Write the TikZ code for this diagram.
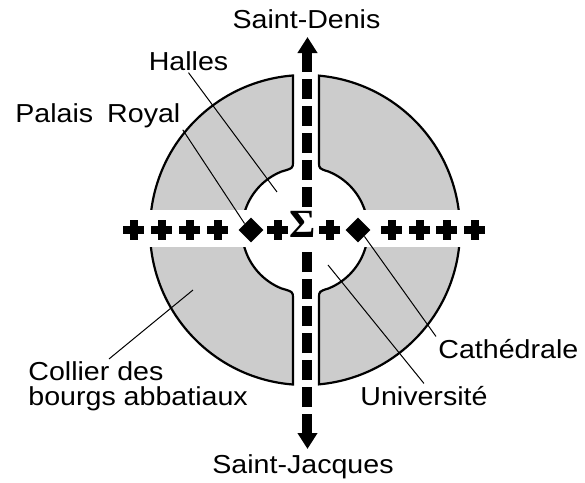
\documentclass[tikz,border=0pt]{standalone}
\usepackage{fontspec}
\setmainfont{Liberation Sans}[FakeStretch=1.1]
\newfontfamily\sigmafont{Liberation Serif}
\usepackage{xcolor}
\colorlet{colRing}{black!20}
\usetikzlibrary{arrows.meta, calc, shapes.geometric}
\tikzset{
	ringpart/.style={draw, line width=1.1pt, fill=colRing},
	leader/.style={line width=0.5pt},
	lbl/.style={font=\fontsize{13pt}{12.85pt}\selectfont, inner sep=1pt},
	road/.style={line width=5pt, dash pattern=on 10pt off 3.5pt, arrows={Triangle[width=9.5pt, length=8pt]-}},
	gatemark/.style={diamond, fill, minimum size=12.5pt, inner sep=0pt},
	crossmark/.pic={
		\fill (-5.25pt,-1.9pt) rectangle (5.25pt,1.9pt);
		\fill (-1.9pt,-5.1pt) rectangle (1.9pt,5.1pt);
	},
}
\begin{document}
\begin{tikzpicture}[x=0.5pt, y=0.5pt]
	\useasboundingbox (-305,230) rectangle (280,-253);

	% Ring, split in two halves
	\filldraw[ringpart] (94.44:155) -- (-12,68) .. controls (-12,61.85) .. (112:63)
		arc[start angle=112, end angle=248, radius=63]
		.. controls (-12,-61.85) .. (-12,-68) -- (265.56:155)
		arc[start angle=265.56, end angle=94.44, radius=155] -- cycle;
	\filldraw[ringpart] (84.82:155) -- (14,68) .. controls (14,61.42) .. (68:63)
		arc[start angle=68, end angle=-68, radius=63]
		.. controls (14,-61.42) .. (14,-68) -- (-84.82:155)
		arc[start angle=-84.82, end angle=84.82, radius=155] -- cycle;

	% East-west band
	\fill[white] (-165,20) rectangle (165,-17);

	% Labels
	\node[lbl, anchor=base] (denis) at (1.5,202) {Saint-Denis};
	\node[lbl, anchor=base] (jacques) at (-2,-243) {Saint-Jacques};
	\node[lbl, anchor=base] (halles) at (-116.5,160) {Halles};
	\node[lbl, anchor=base west] (palais) at (-292,108) {Palais\hspace{3pt} Royal};
	\node[lbl, anchor=base west] (cath) at (131,-128) {Cathédrale};
	\node[lbl, anchor=base west] (univ) at (53,-175) {Université};
	\node[lbl, anchor=north west, align=left] (collier) at (-279,-129) {Collier des\\bourgs abbatiaux};

	% Crosses, gates and centre
	\foreach \x in {-171,-143,-115,-87,-27,25,87,115,142,170}
		\pic at (\x,0) {crossmark};
	\node[gatemark] (palaisMark) at (-54,0) {};
	\node[gatemark] (cathMark) at (53,0) {};
	\node[font=\sigmafont\bfseries\fontsize{20pt}{20pt}\selectfont, inner sep=0pt] (sigma) at (-2,6) {Σ};

	% Leader lines
	\coordinate (hallesPt) at (-28,38);
	\coordinate (univPt) at (23,-35);
	\coordinate (collierPt) at (-112,-60);
	\draw[leader] (halles.south) -- (hallesPt);
	\draw[leader] (palais.south east) -- (palaisMark.north west);
	\draw[leader] (cathMark.south east) -- (cath.north west);
	\draw[leader] (univPt) -- (univ.north);
	\draw[leader] ($(collier.north west)!0.37!(collier.north east)$) -- (collierPt);

	% North-south road
	\coordinate (nBand) at (2.5,20);
	\coordinate (nTip) at (2.5,193);
	\coordinate (sBand) at (2.5,-17);
	\coordinate (sTip) at (2.5,-219);
	\draw[road] (nTip) -- (nBand);
	\draw[road] (sTip) -- (sBand);
\end{tikzpicture}
\end{document}
